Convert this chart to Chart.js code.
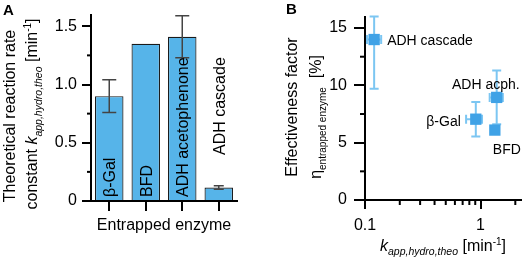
<!DOCTYPE html>
<html>
<head>
<meta charset="utf-8">
<script src="https://cdn.jsdelivr.net/npm/chart.js@4/dist/chart.umd.min.js"></script>
<style>
  body { margin: 0; background: #fff; }
  #wrap { position: relative; width: 529px; height: 260px; }
  canvas { position: absolute; top: 0; }
</style>
</head>
<body>
<div id="wrap">
  <canvas id="chartA" width="265" height="260" style="left:0"></canvas>
  <canvas id="chartB" width="264" height="260" style="left:265px"></canvas>
</div>
<script>
// panel A: theoretical reaction rate constant per entrapped enzyme
const enzymes = ['β-Gal', 'BFD', 'ADH acetophenone', 'ADH cascade'];
const rateValues = [0.90, 1.35, 1.41, 0.115];
const rateErrors = [0.14, 0, 0.18, 0.015];
const rateTickLabels = ['0', '0.5', '1.0', '1.5'];

// panel B: effectiveness factor vs k_app,hydro,theo
const pointNames = ['ADH cascade', 'ADH acph.', 'β-Gal', 'BFD'];
const kValues = [0.12, 1.38, 0.91, 1.33];
const kLow = [0.104, 1.20, 0.75, 1.33];
const kHigh = [0.138, 1.56, 1.03, 1.33];
const etaValues = [14.0, 8.95, 7.05, 6.1];
const etaLow = [9.7, 6.6, 5.55, 6.1];
const etaHigh = [16.0, 11.3, 8.55, 6.1];

// label placement (pixels, relative to the point / bar)
const barLabelLift = [4, 4, 4, 46];
const pointLabelOffset = [[13, 0, 'left'], [23, -13, 'right'], [-15, 2, 'right'], [-2, 19, 'left']];

const FONT = "'Liberation Sans', Arial, sans-serif";
const barColor = '#56b4e9';
const pointColor = '#3fa2e6';
const errColorB = '#7cc6f2';

function fontOf(p) {
  return (p.bold ? 'bold ' : '') + (p.italic ? 'italic ' : '') + p.size + 'px ' + FONT;
}

// draws a line of mixed text (sub/superscripts), optionally rotated -90deg
function drawRich(ctx, parts, x, y, align, rotate) {
  ctx.save();
  ctx.translate(x, y);
  if (rotate) ctx.rotate(-Math.PI / 2);
  ctx.fillStyle = '#000';
  ctx.textBaseline = 'alphabetic';
  ctx.textAlign = 'left';
  let total = 0;
  parts.forEach(p => { ctx.font = fontOf(p); p.w = ctx.measureText(p.text).width; total += p.w; });
  let cx = align === 'center' ? -total / 2 : align === 'right' ? -total : 0;
  parts.forEach(p => {
    ctx.font = fontOf(p);
    ctx.fillText(p.text, cx, p.dy || 0);
    cx += p.w;
  });
  ctx.restore();
}

function isHalf(v) { return Math.abs(v * 2 - Math.round(v * 2)) < 1e-6; }
function isFive(v) { return Math.abs(v / 5 - Math.round(v / 5)) < 1e-6; }
function isDecade(v) { const l = Math.log10(v); return Math.abs(l - Math.round(l)) < 1e-6; }
function isLogMinor(v) {
  const s = v / Math.pow(10, Math.floor(Math.log10(v) + 1e-9));
  return Math.abs(s - Math.round(s)) < 1e-6 && !isDecade(v);
}

function drawMinorY(chart, isMajor, len) {
  const ctx = chart.ctx, s = chart.scales.y, left = chart.chartArea.left;
  ctx.save();
  ctx.strokeStyle = '#000';
  ctx.lineWidth = 2;
  s.ticks.forEach(t => {
    if (isMajor(t.value)) return;
    const py = s.getPixelForValue(t.value);
    ctx.beginPath(); ctx.moveTo(left, py); ctx.lineTo(left - len, py); ctx.stroke();
  });
  ctx.restore();
}

const ctxA = document.getElementById('chartA').getContext('2d');
new Chart(ctxA, {
  type: 'bar',
  data: {
    labels: enzymes,
    datasets: [{
      data: rateValues,
      backgroundColor: barColor,
      borderColor: '#1a1a1a',
      borderWidth: 1.2,
      barPercentage: 0.78,
      categoryPercentage: 1
    }]
  },
  options: {
    responsive: false,
    animation: false,
    devicePixelRatio: 1,
    layout: { padding: { top: 4, right: 28, left: 0, bottom: 0 } },
    plugins: { legend: { display: false }, tooltip: { enabled: false } },
    scales: {
      x: {
        afterFit: s => { s.height = 59; },
        grid: { display: true, offset: false, drawOnChartArea: false, tickLength: 10, tickColor: '#000', lineWidth: 2 },
        border: { display: true, color: '#000', width: 2 },
        ticks: { display: false }
      },
      y: {
        min: 0,
        max: 1.6,
        afterFit: s => { s.width = 91; },
        grid: {
          display: true, drawOnChartArea: false, tickLength: 9, lineWidth: 2,
          tickColor: c => isHalf(c.tick.value) ? '#000' : 'rgba(0,0,0,0)'
        },
        border: { display: true, color: '#000', width: 2 },
        ticks: {
          stepSize: 0.25,
          includeBounds: false,
          autoSkip: false,
          padding: 5,
          color: '#000',
          font: { family: FONT, size: 16 },
          callback: v => isHalf(v) ? rateTickLabels[Math.round(v * 2)] : ''
        }
      }
    }
  },
  plugins: [{
    id: 'panelA',
    afterDatasetsDraw(chart) {
      const ctx = chart.ctx, xs = chart.scales.x, ys = chart.scales.y;
      drawMinorY(chart, isHalf, 4);
      // error bars
      ctx.save();
      ctx.strokeStyle = '#444';
      ctx.lineWidth = 1.5;
      rateValues.forEach((v, i) => {
        const e = rateErrors[i];
        if (!e) return;
        const x = xs.getPixelForValue(i);
        const y1 = ys.getPixelForValue(v + e), y0 = ys.getPixelForValue(v - e);
        const cap = i === 3 ? 5 : 7;
        ctx.beginPath();
        ctx.moveTo(x, y1); ctx.lineTo(x, y0);
        ctx.moveTo(x - cap, y1); ctx.lineTo(x + cap, y1);
        ctx.moveTo(x - cap, y0); ctx.lineTo(x + cap, y0);
        ctx.stroke();
      });
      ctx.restore();
      // rotated category labels
      const base = ys.getPixelForValue(0);
      enzymes.forEach((name, i) => {
        const x = xs.getPixelForValue(i);
        drawRich(ctx, [{ text: name, size: 16 }], x + 6, base - barLabelLift[i], 'left', true);
      });
      // axis titles
      const cx = (chart.chartArea.left + chart.chartArea.right) / 2;
      drawRich(ctx, [{ text: 'Entrapped enzyme', size: 16 }], cx, 230, 'center', false);
      drawRich(ctx, [{ text: 'Theoretical reaction rate', size: 16 }], 14.5, 116, 'center', true);
      drawRich(ctx, [
        { text: 'constant ', size: 16 },
        { text: 'k', size: 16, italic: true },
        { text: 'app,hydro,theo', size: 10.5, italic: true, dy: 5 },
        { text: ' [min', size: 16 },
        { text: '-1', size: 10, dy: -6 },
        { text: ']', size: 16 }
      ], 37, 114, 'center', true);
      drawRich(ctx, [{ text: 'A', size: 15, bold: true }], 3, 15, 'left', false);
    }
  }]
});

const ctxB = document.getElementById('chartB').getContext('2d');
new Chart(ctxB, {
  type: 'scatter',
  data: {
    datasets: [{
      data: kValues.map((k, i) => ({ x: k, y: etaValues[i] })),
      pointStyle: 'rect',
      pointRadius: 8,
      backgroundColor: pointColor,
      borderWidth: 0
    }]
  },
  options: {
    responsive: false,
    animation: false,
    devicePixelRatio: 1,
    clip: false,
    layout: { padding: { top: 3, right: 2, left: 0, bottom: 0 } },
    plugins: { legend: { display: false }, tooltip: { enabled: false } },
    scales: {
      x: {
        type: 'logarithmic',
        min: 0.1,
        max: 2.24,
        afterFit: s => { s.height = 60; },
        grid: {
          display: true, drawOnChartArea: false, tickLength: 9, lineWidth: 2,
          tickColor: c => isDecade(c.tick.value) ? '#000' : 'rgba(0,0,0,0)'
        },
        border: { display: true, color: '#000', width: 2 },
        ticks: {
          autoSkip: false,
          maxRotation: 0,
          padding: 7,
          color: '#000',
          font: { family: FONT, size: 16 },
          callback: v => isDecade(v) ? (v < 1 ? '0.1' : '1') : ''
        }
      },
      y: {
        min: 0,
        max: 16,
        afterFit: s => { s.width = 100; },
        grid: {
          display: true, drawOnChartArea: false, tickLength: 11, lineWidth: 2,
          tickColor: c => isFive(c.tick.value) ? '#000' : 'rgba(0,0,0,0)'
        },
        border: { display: true, color: '#000', width: 2 },
        ticks: {
          stepSize: 2.5,
          includeBounds: false,
          autoSkip: false,
          padding: 7,
          color: '#000',
          font: { family: FONT, size: 16 },
          callback: v => isFive(v) ? String(v) : ''
        }
      }
    }
  },
  plugins: [{
    id: 'panelB',
    beforeDatasetsDraw(chart) {
      const ctx = chart.ctx, xs = chart.scales.x, ys = chart.scales.y;
      ctx.save();
      ctx.strokeStyle = errColorB;
      ctx.lineWidth = 2;
      const cap = 4.5;
      kValues.forEach((k, i) => {
        const x = xs.getPixelForValue(k), y = ys.getPixelForValue(etaValues[i]);
        const yt = ys.getPixelForValue(etaHigh[i]), yb = ys.getPixelForValue(etaLow[i]);
        const xl = xs.getPixelForValue(kLow[i]), xr = xs.getPixelForValue(kHigh[i]);
        ctx.beginPath();
        if (etaHigh[i] !== etaLow[i]) {
          ctx.moveTo(x, yt); ctx.lineTo(x, yb);
          ctx.moveTo(x - cap, yt); ctx.lineTo(x + cap, yt);
          ctx.moveTo(x - cap, yb); ctx.lineTo(x + cap, yb);
        }
        if (kHigh[i] !== kLow[i]) {
          ctx.moveTo(xl, y); ctx.lineTo(xr, y);
          ctx.moveTo(xl, y - cap); ctx.lineTo(xl, y + cap);
          ctx.moveTo(xr, y - cap); ctx.lineTo(xr, y + cap);
        }
        ctx.stroke();
      });
      ctx.restore();
    },
    afterDatasetsDraw(chart) {
      const ctx = chart.ctx, xs = chart.scales.x, ys = chart.scales.y, area = chart.chartArea;
      drawMinorY(chart, isFive, 5);
      // minor log ticks on x
      ctx.save();
      ctx.strokeStyle = '#000';
      ctx.lineWidth = 2;
      xs.ticks.forEach(t => {
        if (!isLogMinor(t.value)) return;
        const px = xs.getPixelForValue(t.value);
        ctx.beginPath(); ctx.moveTo(px, area.bottom); ctx.lineTo(px, area.bottom + 5); ctx.stroke();
      });
      ctx.restore();
      // point labels
      pointNames.forEach((name, i) => {
        const x = xs.getPixelForValue(kValues[i]), y = ys.getPixelForValue(etaValues[i]);
        const o = pointLabelOffset[i];
        drawRich(ctx, [{ text: name, size: 14 }], x + o[0], y + o[1] + 5, o[2], false);
      });
      // axis titles
      const cx = (area.left + area.right) / 2;
      drawRich(ctx, [
        { text: 'k', size: 16, italic: true },
        { text: 'app,hydro,theo', size: 10.5, italic: true, dy: 4 },
        { text: ' [min', size: 16 },
        { text: '-1', size: 10, dy: -6 },
        { text: ']', size: 16 }
      ], cx, 251, 'center', false);
      drawRich(ctx, [{ text: 'Effectiveness factor', size: 16 }], 32, 107, 'center', true);
      drawRich(ctx, [
        { text: 'η', size: 16 },
        { text: 'entrapped enzyme', size: 10, dy: 5 },
        { text: '  [%]', size: 16 }
      ], 56, 117, 'center', true);
      drawRich(ctx, [{ text: 'B', size: 15, bold: true }], 21, 14, 'left', false);
    }
  }]
});
</script>
</body>
</html>
